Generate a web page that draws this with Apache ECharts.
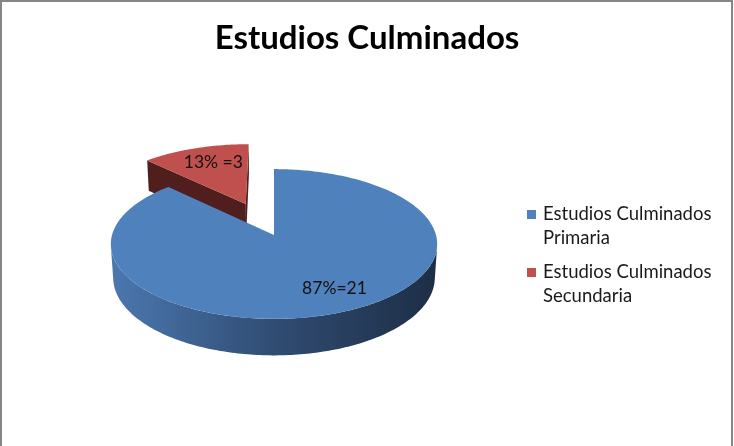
<!DOCTYPE html>
<html>
<head>
<meta charset="utf-8">
<script src="https://cdn.jsdelivr.net/npm/echarts@6.0.0/dist/echarts.min.js"></script>
<style>
  html, body { margin: 0; padding: 0; background: #fff; }
  #chart { width: 734px; height: 446px; }
</style>
</head>
<body>
<div id="chart"></div>
<script>
const categories = ['Estudios Culminados Primaria', 'Estudios Culminados Secundaria'];
const values = [21, 3];
const sliceLabels = ['87%=21', '13% =3'];
const topColors = ['#4F81BD', '#C0504D'];

const total = values.reduce((a, b) => a + b, 0);

// fake 3D view (perspective)
const view = { cx: 274, cy: 235, f: 1202, D: 7.42, tilt: 27.1 * Math.PI / 180, depth: 0.235 };
const explode = [0, 0.48];

function proj(u, v, h) {
  const s = Math.sin(view.tilt), c = Math.cos(view.tilt);
  const z = view.D + v * c - h * s;
  const yup = h * c + v * s;
  return [view.cx + view.f * u / z, view.cy - view.f * yup / z];
}

function arc(a0, a1, ou, ov, h) {
  const pts = [];
  const n = Math.max(2, Math.ceil(Math.abs(a1 - a0) / (Math.PI / 180)));
  for (let k = 0; k <= n; k++) {
    const a = a0 + (a1 - a0) * k / n;
    pts.push(proj(ou + Math.sin(a), ov + Math.cos(a), h));
  }
  return pts;
}

function renderSlice(params, api) {
  const i = params.dataIndex;
  let before = 0;
  for (let k = 0; k < i; k++) before += values[k];
  const a0 = before / total * Math.PI * 2;
  const a1 = (before + api.value(0)) / total * Math.PI * 2;
  const mid = (a0 + a1) / 2;
  const ou = explode[i] * Math.sin(mid), ov = explode[i] * Math.cos(mid);
  const H = -view.depth;
  const c = Math.cos(view.tilt);
  const children = [];
  const zb = i === 0 ? 10 : 0;

  // outer side
  const as = Math.acos(-1 / (view.D * c));
  const lo = Math.max(a0, as), hi = Math.min(a1, Math.PI * 2 - as);
  if (hi > lo) {
    const topArc = arc(lo, hi, ou, ov, 0);
    const botArc = arc(hi, lo, ou, ov, H);
    children.push({
      type: 'polygon', z2: zb + 1,
      shape: { points: topArc.concat(botArc) },
      style: {
        fill: {
          type: 'linear', x: 0, y: 0, x2: 1, y2: 0,
          colorStops: i === 0 ? [
            { offset: 0, color: '#4B78B0' },
            { offset: 0.5, color: '#304C72' },
            { offset: 1, color: '#1D2E46' }
          ] : [
            { offset: 0, color: '#9A3F3D' },
            { offset: 1, color: '#4D1C1B' }
          ]
        }
      }
    });
  }
  // cut faces
  const camV = view.D * c;
  const faces = [];
  if (ou * -Math.cos(a0) + (ov + camV) * Math.sin(a0) < -1e-6) faces.push(a0);
  if (ou * Math.cos(a1) - (ov + camV) * Math.sin(a1) < -1e-6) faces.push(a1);
  faces.forEach(a => {
    children.push({
      type: 'polygon', z2: zb + 1,
      shape: { points: [
        proj(ou, ov, 0),
        proj(ou + Math.sin(a), ov + Math.cos(a), 0),
        proj(ou + Math.sin(a), ov + Math.cos(a), H),
        proj(ou, ov, H)
      ] },
      style: { fill: i === 0 ? '#2A4466' : '#4F1E1D' }
    });
  });
  // top face
  children.push({
    type: 'polygon', z2: zb + 2,
    shape: { points: [proj(ou, ov, 0)].concat(arc(a0, a1, ou, ov, 0)) },
    style: { fill: topColors[i] }
  });
  // label
  const r = 0.72;
  const lp = proj(ou + r * Math.sin(mid), ov + r * Math.cos(mid), 0);
  children.push({
    type: 'text', z2: zb + 3,
    x: lp[0] + (i === 0 ? 12 : 5), y: lp[1],
    style: {
      text: sliceLabels[i], fill: '#111', fontSize: 17.5,
      fontFamily: 'Lato', align: 'center', verticalAlign: 'middle'
    }
  });
  return { type: 'group', children: children };
}

const legendItems = [];
categories.forEach((name, i) => {
  legendItems.push({
    type: 'rect', shape: { x: 527, y: 210 + 58 * i, width: 9, height: 9 },
    style: { fill: topColors[i] }
  });
  legendItems.push({
    type: 'text', x: 543, y: 202 + 58 * i,
    style: {
      text: name, width: 185, overflow: 'break', lineHeight: 24,
      fontSize: 18.5, fontFamily: 'Lato', fill: '#1a1a1a', verticalAlign: 'top'
    }
  });
});

const chart = echarts.init(document.getElementById('chart'));
chart.setOption({
  animation: false,
  title: {
    text: 'Estudios Culminados',
    left: 'center', top: 17,
    textStyle: { fontSize: 33, fontWeight: 'bold', fontFamily: 'Lato', color: '#000' }
  },
  graphic: [
    {
      type: 'rect', shape: { x: 1, y: 1, width: 731, height: 470 },
      style: { fill: null, stroke: '#868686', lineWidth: 2 }
    }
  ].concat(legendItems),
  series: [{
    type: 'custom',
    coordinateSystem: 'none',
    renderItem: renderSlice,
    data: values.map(v => [v])
  }]
});
</script>
</body>
</html>
